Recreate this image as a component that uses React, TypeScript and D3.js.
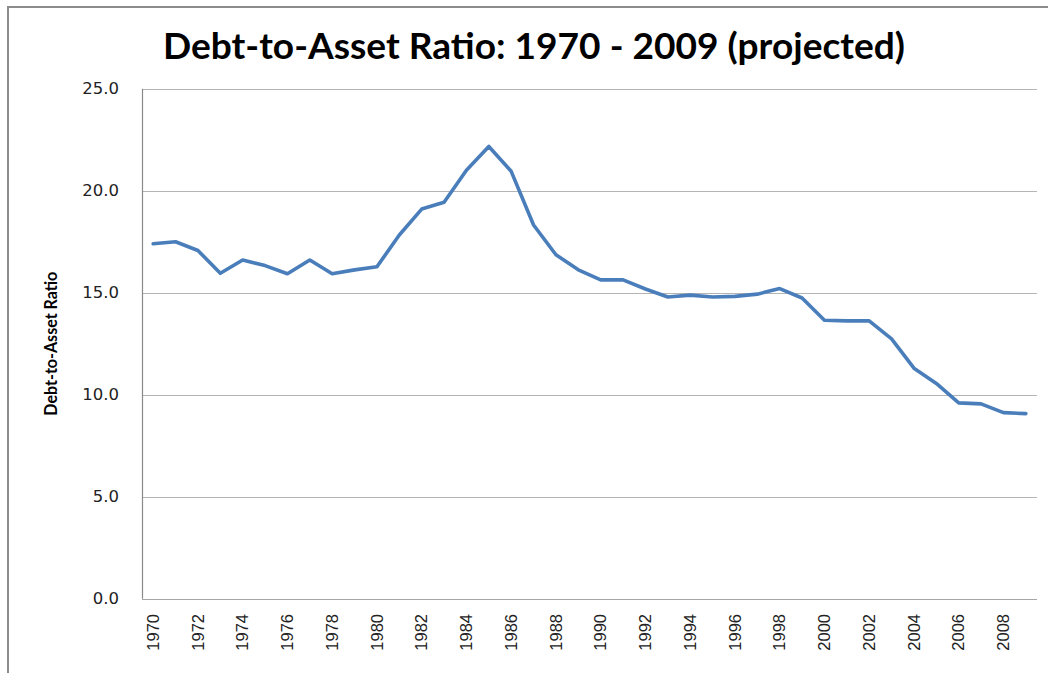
import React from "react";
import { scaleBand, scaleLinear, line } from "d3";

const WIDTH = 1048;
const HEIGHT = 673;
const PLOT = { left: 142, right: 1037, top: 88.7, bottom: 598.7 };

const TITLE = "Debt-to-Asset Ratio: 1970 - 2009 (projected)";
const Y_TITLE = "Debt-to-Asset Ratio";

const years = [
  1970, 1971, 1972, 1973, 1974, 1975, 1976, 1977, 1978, 1979,
  1980, 1981, 1982, 1983, 1984, 1985, 1986, 1987, 1988, 1989,
  1990, 1991, 1992, 1993, 1994, 1995, 1996, 1997, 1998, 1999,
  2000, 2001, 2002, 2003, 2004, 2005, 2006, 2007, 2008, 2009,
];

const ratios = [
  17.4, 17.5, 17.07, 15.95, 16.6, 16.33, 15.93, 16.6, 15.93, 16.12,
  16.27, 17.83, 19.1, 19.43, 21.0, 22.17, 20.95, 18.32, 16.86, 16.12,
  15.63, 15.63, 15.18, 14.79, 14.88, 14.79, 14.82, 14.93, 15.2, 14.74,
  13.65, 13.62, 13.62, 12.74, 11.3, 10.55, 9.6, 9.55, 9.12, 9.07,
];

const yTicks = [0, 5, 10, 15, 20, 25];
const xTickYears = years.filter((y) => y % 2 === 0);

export default function App() {
  const x = scaleBand<number>()
    .domain(years)
    .range([PLOT.left, PLOT.right]);
  const y = scaleLinear().domain([0, 25]).range([PLOT.bottom, PLOT.top]);
  const cx = (yr: number) => (x(yr) as number) + x.bandwidth() / 2;

  const path = line<number>()
    .x((d, i) => cx(years[i]))
    .y((d) => y(d))(ratios);

  return (
    <svg
      width={WIDTH}
      height={HEIGHT}
      style={{ position: "absolute", left: 0, top: 0, background: "#fff" }}
    >
      {/* chart frame */}
      <rect x={8} y={7} width={1100} height={700} fill="#fff" stroke="#8c8c8c" strokeWidth={2} />

      <text
        x={534}
        y={59}
        textAnchor="middle"
        fontFamily="Lato, 'Open Sans', sans-serif"
        fontWeight="bold"
        fontSize={37}
        textLength={742}
        lengthAdjust="spacingAndGlyphs"
        fill="#000"
      >
        {TITLE}
      </text>

      {/* gridlines */}
      {yTicks.map((t) => (
        <line
          key={t}
          x1={PLOT.left}
          x2={PLOT.right}
          y1={Math.round(y(t)) + 0.5}
          y2={Math.round(y(t)) + 0.5}
          stroke={t === 0 ? "#a6a6a6" : "#b4b4b4"}
          strokeWidth={1.2}
        />
      ))}
      <line
        x1={PLOT.left + 0.5}
        x2={PLOT.left + 0.5}
        y1={PLOT.top}
        y2={PLOT.bottom}
        stroke="#8a8a8a"
        strokeWidth={1.2}
      />

      {yTicks.map((t) => (
        <text
          key={t}
          x={119}
          y={y(t)}
          dy="0.35em"
          textAnchor="end"
          fontFamily="'DejaVu Sans', sans-serif"
          fontSize={16.5}
          fill="#222"
        >
          {t.toFixed(1)}
        </text>
      ))}

      <text
        transform={`translate(57,${(PLOT.top + PLOT.bottom) / 2}) rotate(-90)`}
        textAnchor="middle"
        fontFamily="Lato, 'Open Sans', sans-serif"
        fontWeight="bold"
        fontSize={16.5}
        textLength={144}
        lengthAdjust="spacingAndGlyphs"
        fill="#000"
      >
        {Y_TITLE}
      </text>

      {xTickYears.map((yr) => (
        <text
          key={yr}
          transform={`translate(${cx(yr)},614) rotate(-90)`}
          dy="0.35em"
          textAnchor="end"
          fontFamily="'Liberation Sans', Arial, sans-serif"
          fontSize={16.5}
          fill="#222"
        >
          {yr}
        </text>
      ))}

      <path
        d={path ?? ""}
        fill="none"
        stroke="#4a7ebb"
        strokeWidth={3.6}
        strokeLinejoin="round"
        strokeLinecap="round"
      />
    </svg>
  );
}
